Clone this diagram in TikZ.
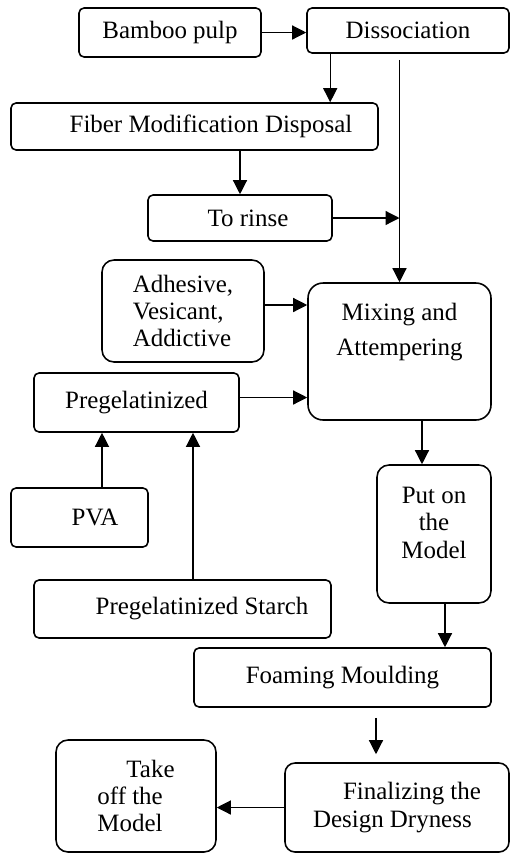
\documentclass[tikz,border=0pt]{standalone}
\usepackage{fontspec}
\setmainfont{Liberation Serif}
\usetikzlibrary{arrows.meta}

\begin{document}
\begin{tikzpicture}[x=0.02cm, y=-0.02cm,
  stage/.style={draw, line width=0.9pt, rounded corners=0.1cm, inner sep=0pt,
    font=\fontsize{14.2pt}{15.6pt}\selectfont},
  link/.style={line width=0.7pt, -{Triangle[length=0.28cm,width=0.28cm]}}]
\useasboundingbox (0,0) rectangle (510,853);
\node[stage, minimum width=3.64cm, minimum height=0.98cm] (pulp) at (170,32.5) {Bamboo pulp};
\node[stage, minimum width=4.04cm, minimum height=0.9cm] (diss) at (408,30.5) {Dissociation};
\node[stage, minimum width=7.34cm, minimum height=0.94cm] (fiber) at (194.5,126.5) {\hspace*{0.66cm}Fiber Modification Disposal};
\node[stage, minimum width=3.68cm, minimum height=0.92cm] (rinse) at (240,218) {\hspace*{0.32cm}To rinse};
\node[stage, rounded corners=0.24cm, align=left, minimum width=3.24cm, minimum height=2.04cm] (adh) at (183,311) {Adhesive,\\Vesicant,\\Addictive};
\node[stage, rounded corners=0.3cm, align=center, minimum width=3.66cm, minimum height=2.74cm,
  font=\fontsize{14.2pt}{20pt}\selectfont] (mix) at (399.5,351.5) {Mixing and\\Attempering\\[0.2cm]~};
\node[stage, minimum width=4.1cm, minimum height=1.18cm] (pre) at (136.5,402.5) {Pregelatinized};
\node[stage, rounded corners=0.24cm, align=center, minimum width=2.28cm, minimum height=2.76cm] (put) at (434,534) {Put on\\the\\Model\\[-0.1cm]~};
\node[stage, minimum width=2.74cm, minimum height=1.18cm] (pva) at (79.5,517.5) {\hspace*{0.62cm}PVA};
\node[stage, minimum width=5.94cm, minimum height=1.16cm] (starch) at (182.5,609) {\hspace*{0.78cm}Pregelatinized Starch};
\node[stage, minimum width=5.94cm, minimum height=1.18cm] (foam) at (342.5,677.5) {Foaming Moulding};
\node[stage, rounded corners=0.2cm, align=left, minimum width=4.48cm, minimum height=1.78cm] (fin) at (397,807.5) {\hspace*{0.6cm}Finalizing the\\Design Dryness};
\node[stage, rounded corners=0.24cm, align=left, minimum width=3.2cm, minimum height=2.24cm] (take) at (136,796) {\hspace*{0.58cm}Take\\off the\\Model};
\coordinate (d1) at ([xshift=0.48cm]diss.south west);
\coordinate (j) at (mix.north |- rinse.east);
\draw[link] (pulp.east) -- (pulp.east -| diss.west);
\draw[link] (d1) -- (d1 |- fiber.north);
\draw[link] (fiber.south -| rinse.north) -- (rinse.north);
\draw[link] (rinse.east) -- (j);
\draw[link, shorten <=0.12cm] (mix.north |- diss.south) -- (mix.north);
\draw[link] ([yshift=0.12cm]adh.east) -- ([yshift=0.12cm]adh.east -| mix.west);
\draw[link] ([yshift=0.1cm]pre.east) -- ([yshift=0.1cm]pre.east -| mix.west);
\draw[link] ([xshift=0.45cm]mix.south) -- ([xshift=0.45cm]mix.south |- put.north);
\draw[link] ([xshift=0.45cm]pva.north) -- ([xshift=0.45cm]pva.north |- pre.south);
\draw[link] ([xshift=0.21cm]starch.north) -- ([xshift=0.21cm]starch.north |- pre.south);
\draw[link] ([xshift=0.22cm]put.south) -- ([xshift=0.22cm]put.south |- foam.north);
\draw[link, shorten <=0.2cm, shorten >=0.16cm] ([xshift=-0.42cm]fin.north |- foam.south) -- ([xshift=-0.42cm]fin.north);
\draw[link] (fin.west) -- (fin.west -| take.east);
\end{tikzpicture}
\end{document}
